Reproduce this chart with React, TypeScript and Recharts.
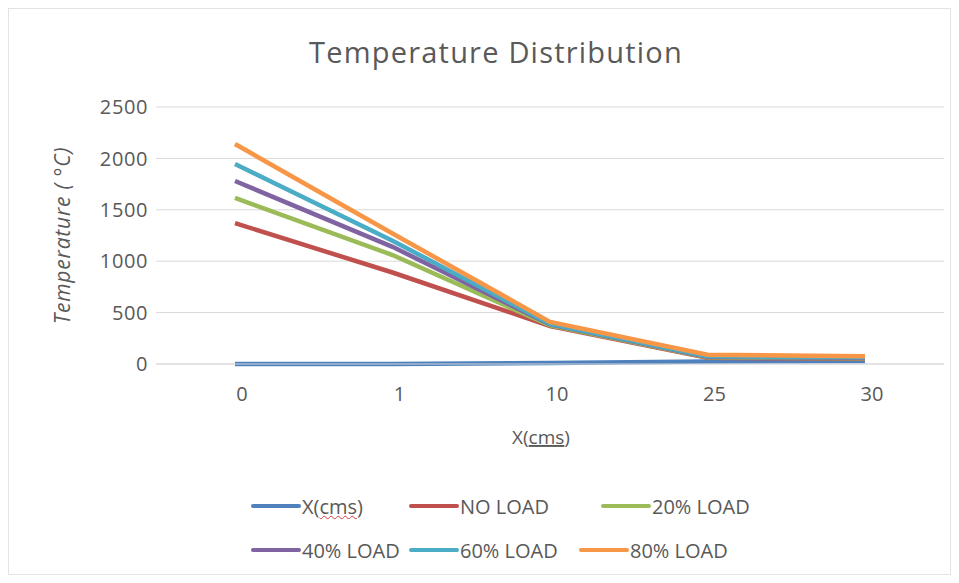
import { LineChart, Line, XAxis, YAxis, CartesianGrid } from 'recharts'

// category positions along the bar (cm)
const X_LABELS = ['0', '1', '10', '25', '30']

// series values (°C)
const X_CMS = [0, 1, 10, 25, 30]
const NO_LOAD = [1370, 890, 370, 60, 50]
const LOAD_20 = [1615, 1060, 375, 65, 55]
const LOAD_40 = [1780, 1140, 385, 70, 60]
const LOAD_60 = [1945, 1200, 390, 75, 65]
const LOAD_80 = [2140, 1270, 410, 90, 75]

const Y_TICKS = [0, 500, 1000, 1500, 2000, 2500]

const SERIES = [
  { key: 'xcms', name: 'X(cms)', color: '#4F81BD', values: X_CMS },
  { key: 'noLoad', name: 'NO LOAD', color: '#C0504D', values: NO_LOAD },
  { key: 'load20', name: '20% LOAD', color: '#9BBB59', values: LOAD_20 },
  { key: 'load40', name: '40% LOAD', color: '#8064A2', values: LOAD_40 },
  { key: 'load60', name: '60% LOAD', color: '#4BACC6', values: LOAD_60 },
  { key: 'load80', name: '80% LOAD', color: '#F79646', values: LOAD_80 },
]

const data = X_LABELS.map((label, i) => {
  const row: Record<string, string | number> = { x: label }
  SERIES.forEach((s) => {
    row[s.key] = s.values[i]
  })
  return row
})

const FONT = '"Open Sans", "Liberation Sans", sans-serif'
const TEXT = '#595959'

// legend rows, left edge of each entry (Excel flows them unevenly)
const LEGEND_ROWS = [
  { top: 482, items: [0, 1, 2], lefts: [242, 400, 592] },
  { top: 526, items: [3, 4, 5], lefts: [242, 400, 570] },
]

function LegendName({ name }: { name: string }) {
  if (name !== 'X(cms)') return <>{name}</>
  return (
    <>
      X(
      <span style={{ textDecoration: 'underline wavy #d23b3b', textDecorationThickness: 1 }}>cms</span>)
    </>
  )
}

export default function App() {
  return (
    <div
      style={{
        position: 'relative',
        width: 943,
        height: 567,
        border: '1px solid #e3e3e3',
        boxSizing: 'border-box',
        background: '#fff',
        fontFamily: FONT,
      }}
    >
      <div
        style={{
          position: 'absolute',
          top: 23,
          left: 0,
          width: 974,
          textAlign: 'center',
          fontSize: 29,
          letterSpacing: 1.2,
          color: TEXT,
        }}
      >
        Temperature Distribution
      </div>

      <LineChart
        width={943}
        height={567}
        data={data}
        margin={{ top: 99, right: 7, left: 88, bottom: 131 }}
        style={{ position: 'absolute', top: -1, left: -1 }}
      >
        <CartesianGrid vertical={false} stroke="#d9d9d9" />
        <XAxis
          dataKey="x"
          height={80}
          padding={{ left: 79, right: 79 }}
          axisLine={{ stroke: '#d9d9d9' }}
          tickLine={false}
          tickMargin={17}
          tick={{ fill: TEXT, fontSize: 20, fontFamily: FONT, dx: 7 }}
          label={{
            content: ({ viewBox }: any) => (
              <text
                x={viewBox.x + viewBox.width / 2 - 9}
                y={viewBox.y + viewBox.height}
                textAnchor="middle"
                fill={TEXT}
                fontSize={19}
                fontFamily={FONT}
              >
                X(
                <tspan style={{ textDecoration: 'underline wavy #d23b3b' }}>cms</tspan>)
              </text>
            ),
          }}
        />
        <YAxis
          width={60}
          domain={[0, 2500]}
          ticks={Y_TICKS}
          axisLine={false}
          tickLine={false}
          tick={{ fill: TEXT, fontSize: 20, fontFamily: FONT, letterSpacing: 0.6 }}
          label={{
            content: ({ viewBox }: any) => {
              const cx = viewBox.x - 34
              const cy = viewBox.y + viewBox.height / 2
              return (
                <text
                  x={cx}
                  y={cy}
                  transform={`rotate(-90 ${cx} ${cy})`}
                  textAnchor="middle"
                  dominantBaseline="central"
                  fill={TEXT}
                  fontSize={21}
                  letterSpacing={0.8}
                  fontStyle="italic"
                  fontFamily={FONT}
                >
                  Temperature ( °C)
                </text>
              )
            },
          }}
        />
        {SERIES.map((s) => (
          <Line
            key={s.key}
            type="linear"
            dataKey={s.key}
            name={s.name}
            stroke={s.color}
            strokeWidth={4.5}
            dot={false}
            activeDot={false}
            isAnimationActive={false}
          />
        ))}
      </LineChart>

      {/* Legend */}
      {LEGEND_ROWS.map((row) =>
        row.items.map((idx, j) => {
          const s = SERIES[idx]
          return (
            <div
              key={s.key}
              style={{
                position: 'absolute',
                top: row.top,
                left: row.lefts[j],
                height: 30,
                display: 'flex',
                alignItems: 'center',
                fontSize: 20,
                color: TEXT,
                whiteSpace: 'nowrap',
              }}
            >
              <span
                style={{
                  display: 'inline-block',
                  width: 50,
                  height: 4,
                  borderRadius: 2,
                  background: s.color,
                  marginRight: 1,
                }}
              />
              <span>
                <LegendName name={s.name} />
              </span>
            </div>
          )
        }),
      )}
    </div>
  )
}
